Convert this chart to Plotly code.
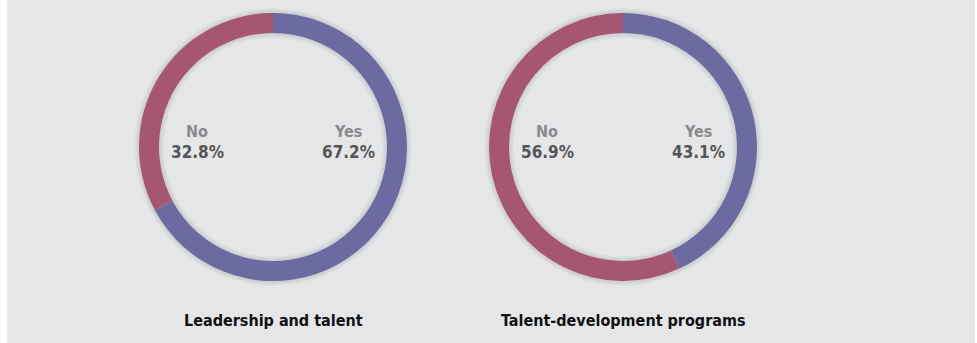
import plotly.graph_objects as go

W, H = 977, 343

answers = ["Yes", "No"]
leadership_values = [67.2, 32.8]
talent_values = [43.1, 56.9]
chart_titles = ["Leadership and talent", "Talent-development programs"]
colors = ["#6b6ba1", "#a65572"]

BG = "#e5e6e8"
FONT = "DejaVu Sans Condensed, Liberation Sans Narrow, sans-serif"

centers_x = [273, 623]
center_y = 147
R = 134
R_IN = 114

fig = go.Figure()

def dom(cx, r):
    return dict(x=[(cx - r) / W, (cx + r) / W],
                y=[1 - (center_y + r) / H, 1 - (center_y - r) / H])

# soft shadow rings
for cx in centers_x:
    for k in range(1, 6):
        ro = R + k
        ri = R_IN - k
        fig.add_trace(go.Pie(
            labels=["s"], values=[1], hole=ri / ro, sort=False,
            marker=dict(colors=["rgba(0,0,0,0.018)"], line=dict(width=0)),
            textinfo="none", hoverinfo="skip", domain=dom(cx, ro), showlegend=False,
        ))

for cx, vals in zip(centers_x, [leadership_values, talent_values]):
    fig.add_trace(go.Pie(
        labels=answers, values=vals, hole=R_IN / R, sort=False,
        direction="clockwise", rotation=0,
        marker=dict(colors=colors, line=dict(width=0)),
        textinfo="none", hoverinfo="label+percent",
        domain=dom(cx, R), showlegend=False,
    ))

annotations = []
for cx, vals, title in zip(centers_x, [leadership_values, talent_values], chart_titles):
    for lab, v, dx in [("Yes", vals[0], 75), ("No", vals[1], -76)]:
        annotations.append(dict(
            x=(cx + dx) / W, y=1 - 131 / H, xref="paper", yref="paper",
            text=f"<b>{lab}</b>", showarrow=False, xanchor="center", yanchor="middle",
            font=dict(family=FONT, size=16, color="#8a8a8a")))
        annotations.append(dict(
            x=(cx + dx) / W, y=1 - 152 / H, xref="paper", yref="paper",
            text=f"<b>{v:.1f}%</b>", showarrow=False, xanchor="center", yanchor="middle",
            font=dict(family=FONT, size=17, color="#555555")))
    annotations.append(dict(
        x=cx / W, y=1 - 320 / H, xref="paper", yref="paper",
        text=f"<b>{title}</b>", showarrow=False, xanchor="center", yanchor="middle",
        font=dict(family=FONT, size=16, color="#111111")))

fig.update_layout(
    width=W, height=H, margin=dict(l=0, r=0, t=0, b=0),
    paper_bgcolor="white", plot_bgcolor="white",
    annotations=annotations,
    shapes=[dict(type="rect", xref="paper", yref="paper", x0=7 / W, x1=975 / W,
                 y0=0, y1=1, fillcolor=BG, line=dict(width=0), layer="below")],
)

fig.write_html("out.html")
